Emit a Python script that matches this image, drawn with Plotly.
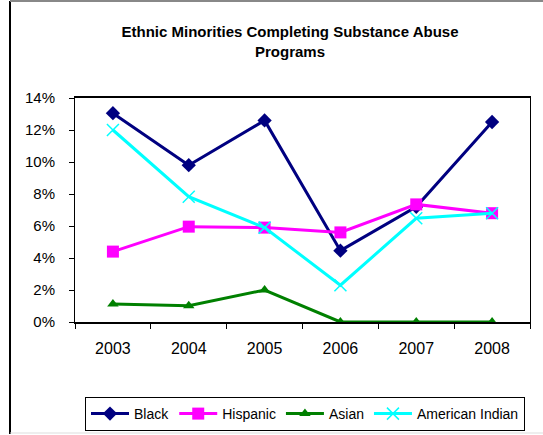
import plotly.graph_objects as go

years = ["2003", "2004", "2005", "2006", "2007", "2008"]
black = [0.1305, 0.098, 0.126, 0.0446, 0.072, 0.125]
hispanic = [0.044, 0.0596, 0.059, 0.056, 0.0735, 0.068]
asian = [0.0112, 0.0102, 0.020, 0.0, 0.0, 0.0]
american_indian = [0.120, 0.0783, 0.059, 0.023, 0.0648, 0.068]

fig = go.Figure()
fig.add_trace(go.Scatter(x=years, y=black, name="Black", mode="lines+markers",
                         line=dict(color="#000080", width=3),
                         marker=dict(symbol="diamond", size=11, color="#000080")))
fig.add_trace(go.Scatter(x=years, y=hispanic, name="Hispanic", mode="lines+markers",
                         line=dict(color="#FF00FF", width=3),
                         marker=dict(symbol="square", size=12, color="#FF00FF")))
fig.add_trace(go.Scatter(x=years, y=asian, name="Asian", mode="lines+markers",
                         line=dict(color="#008000", width=3),
                         marker=dict(symbol="triangle-up", size=10, color="#008000")))
fig.add_trace(go.Scatter(x=years, y=american_indian, name="American Indian", mode="lines+markers",
                         line=dict(color="#00FFFF", width=3),
                         marker=dict(symbol="x-thin", size=12,
                                     line=dict(color="#00FFFF", width=1.5), color="#00FFFF")))

L, R, T, B = 75, 13, 98, 113
W, H = 543, 435
pw, ph = W - L - R, H - T - B

def px(x):
    return (x - L) / pw

def py(y):
    return (H - B - y) / ph

shapes = [
    dict(type="line", xref="paper", yref="paper", x0=px(10), x1=px(10), y0=py(1), y1=py(434),
         line=dict(color="black", width=2)),
    dict(type="line", xref="paper", yref="paper", x0=px(10), x1=px(543), y0=py(1), y1=py(1),
         line=dict(color="#888888", width=2)),
    dict(type="line", xref="paper", yref="paper", x0=px(10), x1=px(543), y0=py(433), y1=py(433),
         line=dict(color="#DDDDDD", width=1)),
]

fig.update_layout(
    width=W, height=H,
    margin=dict(l=L, r=R, t=T, b=B, autoexpand=False),
    paper_bgcolor="white", plot_bgcolor="white",
    font=dict(family="Arial, Liberation Sans, sans-serif", size=14, color="black"),
    title=dict(text="<b>Ethnic Minorities Completing Substance Abuse<br>Programs</b>",
               x=290 / W, xref="container", xanchor="center",
               y=1 - 37 / H, yref="container", yanchor="top",
               font=dict(size=15)),
    showlegend=True,
    legend=dict(orientation="h", x=305 / W, xref="container", xanchor="center",
                y=1 - 397 / H, yref="container", yanchor="top",
                bordercolor="black", borderwidth=1, font=dict(size=14),
                itemwidth=38, tracegroupgap=0),
    shapes=shapes,
    xaxis=dict(type="category", range=[-0.5, 5.5], showline=True, linecolor="black",
               linewidth=2, mirror=True,
               ticks="outside", tickson="boundaries", ticklen=5, tickcolor="black",
               showgrid=False, tickfont=dict(size=16), ticklabelstandoff=11),
    yaxis=dict(range=[0, 0.14], dtick=0.02, tickformat=".0%", showline=True,
               linecolor="black", linewidth=1, mirror=True, ticks="outside", ticklen=5,
               tickcolor="black", showgrid=False, zeroline=False, tickfont=dict(size=15),
               ticklabelstandoff=11),
)

fig.write_html("out.html", post_script="document.body.style.margin='0';",
               config={"displayModeBar": False})
